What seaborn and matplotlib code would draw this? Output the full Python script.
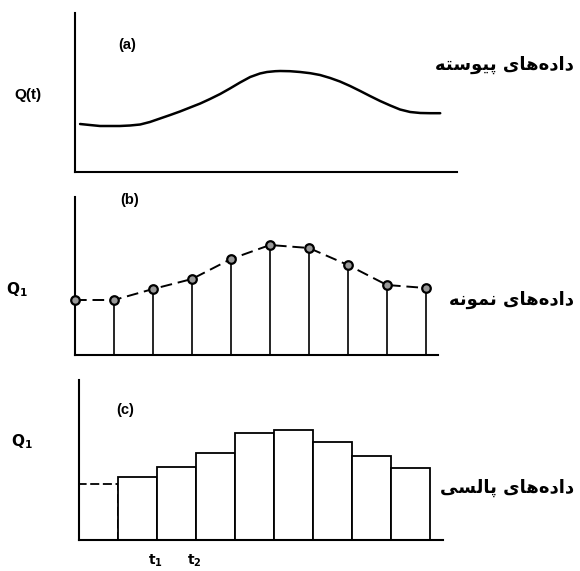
import matplotlib
matplotlib.use('Agg')
import matplotlib.pyplot as plt
import seaborn as sns

# ---------------- data ----------------
curve_t = [0.13, 0.38, 0.64, 0.90, 1.15, 1.41, 1.67, 1.92, 2.18, 2.44,
           2.69, 2.95, 3.21, 3.46, 3.72, 3.97, 4.23, 4.49, 4.74, 4.92,
           5.13, 5.26, 5.51, 5.77, 6.03, 6.28, 6.54, 6.79, 7.05, 7.31,
           7.56, 7.82, 8.08, 8.33, 8.59, 8.85, 9.10, 9.36]
curve_q = [4.8, 4.7, 4.6, 4.6, 4.6, 4.65, 4.75, 5.0, 5.35, 5.7,
           6.05, 6.45, 6.85, 7.3, 7.8, 8.35, 8.95, 9.5, 9.85, 10.0,
           10.08, 10.1, 10.08, 10.0, 9.88, 9.7, 9.4, 9.05, 8.6, 8.1,
           7.6, 7.1, 6.65, 6.25, 6.0, 5.9, 5.88, 5.88]
sample_t = [0, 1, 2, 3, 4, 5, 6, 7, 8, 9]
sample_q = [5.5, 5.5, 6.6, 7.6, 9.6, 11.0, 10.7, 9.0, 7.0, 6.7]
pulse_idx = [0, 1, 2, 3, 4, 5, 6, 7, 8]
pulse_q = [5.6, 6.3, 7.3, 8.7, 10.7, 11.0, 9.8, 8.4, 7.2]
panel_tags = ['(a)', '(b)', '(c)']
y_labels = ['Q(t)', r'$\mathbf{Q_1}$', r'$\mathbf{Q_1}$']
row_titles = ['داده‌های پیوسته', 'داده‌های نمونه', 'داده‌های پالسی']
tick_pos = [1.45, 2.45]
tick_labels = [r'$\mathbf{t_1}$', r'$\mathbf{t_2}$']

# ---------------- minimal Persian shaping ----------------
FORMS = {  # isolated, final, initial, medial
    'ا': (0xFE8D, 0xFE8E, None, None),
    'د': (0xFEA9, 0xFEAA, None, None),
    'و': (0xFEED, 0xFEEE, None, None),
    'ه': (0xFEE9, 0xFEEA, 0xFEEB, 0xFEEC),
    'ی': (0xFEEF, 0xFEF0, 0xFEF3, 0xFEF4),
    'پ': (0xFB56, 0xFB57, 0xFB58, 0xFB59),
    'س': (0xFEB1, 0xFEB2, 0xFEB3, 0xFEB4),
    'ت': (0xFE95, 0xFE96, 0xFE97, 0xFE98),
    'ن': (0xFEE5, 0xFEE6, 0xFEE7, 0xFEE8),
    'م': (0xFEE1, 0xFEE2, 0xFEE3, 0xFEE4),
    'ل': (0xFEDD, 0xFEDE, 0xFEDF, 0xFEE0),
}


def shape(s):
    out = []
    for i, ch in enumerate(s):
        if ch not in FORMS:
            if ch != '\u200c':
                out.append(ch)
            continue
        f = FORMS[ch]
        prev = s[i - 1] if i > 0 else ''
        nxt = s[i + 1] if i + 1 < len(s) else ''
        pj = prev in FORMS and FORMS[prev][2] is not None
        nj = nxt in FORMS and f[2] is not None
        if pj and nj:
            cp = f[3]
        elif pj:
            cp = f[1]
        elif nj:
            cp = f[2]
        else:
            cp = f[0]
        out.append(chr(cp))
    return ''.join(out[::-1])


# ---------------- figure ----------------
sns.set_theme(style='white')
plt.rcParams['font.family'] = ['Liberation Sans', 'DejaVu Sans']
plt.rcParams['mathtext.fontset'] = 'dejavusans'
plt.rcParams['text.color'] = 'black'
plt.rcParams['xtick.color'] = 'black'
plt.rcParams['xtick.labelcolor'] = 'black'

W, H = 580, 571
fig = plt.figure(figsize=(5.8, 5.71), dpi=100)
fig.patch.set_facecolor('white')


def box(l, t, r, b):
    return [l / W, 1 - b / H, (r - l) / W, (b - t) / H]


axA = fig.add_axes(box(75, 13, 457, 172))
axB = fig.add_axes(box(75, 197, 438, 355))
axC = fig.add_axes(box(79, 380, 443, 540))

# (a) continuous
sns.lineplot(x=curve_t, y=curve_q, ax=axA, color='black', linewidth=1.8,
             sort=False)
axA.set_xlim(0, 9.79)
axA.set_ylim(0, 15.9)

# (b) sampled
axB.vlines(sample_t, 0, sample_q, color='black', linewidth=1.2)
sns.lineplot(x=sample_t, y=sample_q, ax=axB, color='black', linewidth=1.4,
             linestyle=(0, (6, 3)))
sns.scatterplot(x=sample_t, y=sample_q, ax=axB, s=38, color='#999999',
                edgecolor='black', linewidth=1.6, zorder=5, clip_on=False)
axB.set_xlim(0, 9.31)
axB.set_ylim(0, 15.8)

# (c) pulses
sns.barplot(x=pulse_idx, y=pulse_q, ax=axC, width=1, color='white',
            saturation=1, edgecolor='black', linewidth=1.3)
axC.patches[0].set_linestyle((0, (5, 2)))
axC.set_xlim(-0.5, 8.83)
axC.set_ylim(0, 16.0)
axC.set_xticks(tick_pos)
axC.set_xticklabels(tick_labels, fontsize=10, color='black')
axC.tick_params(axis='x', length=0, pad=9)

for ax in (axA, axB, axC):
    ax.set_facecolor('white')
    ax.set_xlabel('')
    ax.set_ylabel('')
    ax.set_yticks([])
    for s in ('top', 'right'):
        ax.spines[s].set_visible(False)
    for s in ('left', 'bottom'):
        ax.spines[s].set_color('black')
        ax.spines[s].set_linewidth(1.5)
axA.set_xticks([])
axB.set_xticks([])


def ftext(x, y, s, **kw):
    fig.text(x / W, 1 - y / H, s, color='black', **kw)


tag_pos = [(127, 45), (130, 200), (125, 410)]
ylab_pos = [(28, 95), (17, 290), (22, 442)]
title_y = [65, 300, 488]
for i in range(3):
    ftext(*tag_pos[i], panel_tags[i], ha='center', va='center', fontsize=10.5,
          fontweight='bold')
    ftext(*ylab_pos[i], y_labels[i], ha='center', va='center', fontsize=11,
          fontweight='bold')
    ftext(574, title_y[i], shape(row_titles[i]), ha='right', va='center',
          fontsize=13, fontweight='bold', family='DejaVu Sans')

fig.savefig('out.png', dpi=100, facecolor='white')
